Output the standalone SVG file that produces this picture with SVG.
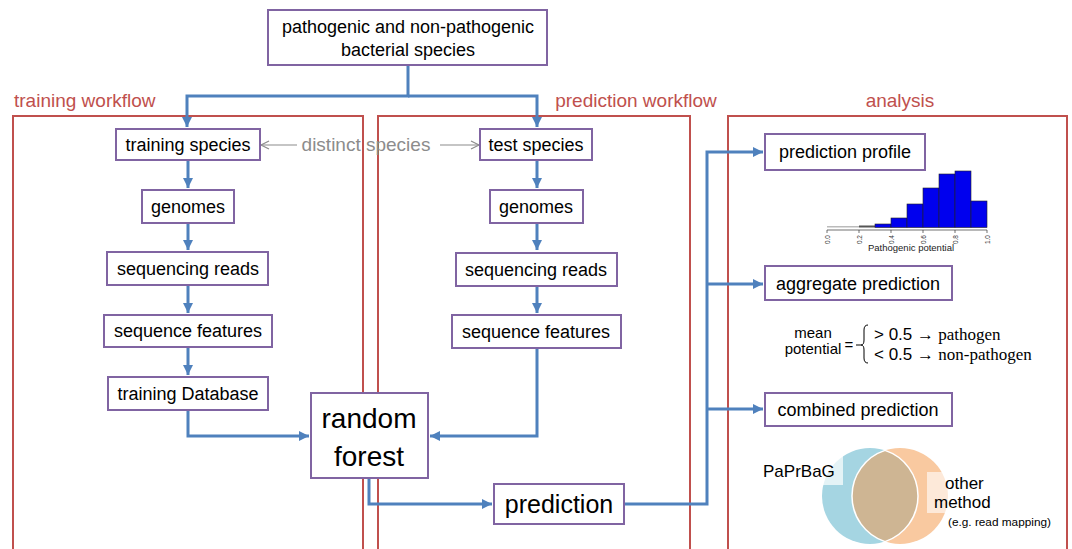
<svg xmlns="http://www.w3.org/2000/svg" width="1072" height="549" viewBox="0 0 1072 549">
<style>
.box{fill:#fff;stroke:#8064a2;stroke-width:2}
.t{font-family:"Liberation Sans",Arial,sans-serif;font-size:18px;fill:#000;text-anchor:middle}
.red{fill:none;stroke:#c0504d;stroke-width:2}
.rl{font-family:"Liberation Sans",Arial,sans-serif;font-size:19px;fill:#c0504d}
.c{fill:none;stroke:#4f81bd;stroke-width:3}
.g{fill:none;stroke:#8c8c8c;stroke-width:1.2}
.s{font-family:"Liberation Sans",Arial,sans-serif}
.serif{font-family:"Liberation Serif","Times New Roman",serif}
</style>
<defs>
<marker id="ah" markerUnits="userSpaceOnUse" markerWidth="12" markerHeight="12" refX="10" refY="5" orient="auto">
<path d="M0,0 L10,5 L0,10 Z" fill="#4f81bd"/>
</marker>
<marker id="ga" markerUnits="userSpaceOnUse" markerWidth="12" markerHeight="12" refX="9" refY="5" orient="auto">
<path d="M1,1 L9,5 L1,9" fill="none" stroke="#8c8c8c" stroke-width="1.2"/>
</marker>
</defs>
<rect width="1072" height="549" fill="#fff"/>

<g id="regions">
<path class="red" d="M13,560 V116 H363 V560"/>
<path class="red" d="M378,560 V116 H690 V560"/>
<path class="red" d="M728,560 V116 H1067 V560"/>
<text class="rl" x="14" y="107">training workflow</text>
<text class="rl" x="636" y="107" text-anchor="middle">prediction workflow</text>
<text class="rl" x="900" y="107" text-anchor="middle">analysis</text>
</g>

<g id="connectors">
<path class="c" d="M408,65 V96 H187 V127" marker-end="url(#ah)"/>
<path class="c" d="M408,96 H537 V127" marker-end="url(#ah)"/>
<path class="c" d="M188,161 V188" marker-end="url(#ah)"/>
<path class="c" d="M188,224 V250" marker-end="url(#ah)"/>
<path class="c" d="M188,286 V313" marker-end="url(#ah)"/>
<path class="c" d="M188,348 V375" marker-end="url(#ah)"/>
<path class="c" d="M188,411 V436 H309" marker-end="url(#ah)"/>
<path class="c" d="M537,161 V188" marker-end="url(#ah)"/>
<path class="c" d="M537,224 V250" marker-end="url(#ah)"/>
<path class="c" d="M537,287 V313" marker-end="url(#ah)"/>
<path class="c" d="M537,349 V436 H430" marker-end="url(#ah)"/>
<path class="c" d="M369,479 V504 H492" marker-end="url(#ah)"/>
<path class="c" d="M625,504 H707 V152 H763" marker-end="url(#ah)"/>
<path class="c" d="M707,284 H763" marker-end="url(#ah)"/>
<path class="c" d="M707,409 H763" marker-end="url(#ah)"/>
<path class="g" d="M297,145 H261" marker-end="url(#ga)"/>
<path class="g" d="M440,145 H479" marker-end="url(#ga)"/>
<text class="s" x="366" y="151" style="font-size:19px" fill="#8c8c8c" text-anchor="middle">distinct species</text>
</g>

<g id="n-source">
<rect class="box" x="268" y="10" width="279" height="55"/>
<text class="t" x="408" y="33">pathogenic and non-pathogenic</text>
<text class="t" x="408" y="56">bacterial species</text>
</g>

<g id="n-train-species"><rect class="box" x="116" y="129" width="144" height="31"/><text class="t" x="188" y="151">training species</text></g>
<g id="n-train-genomes"><rect class="box" x="142" y="190" width="92" height="33"/><text class="t" x="188" y="213">genomes</text></g>
<g id="n-train-reads"><rect class="box" x="107" y="252" width="161" height="33"/><text class="t" x="188" y="275">sequencing reads</text></g>
<g id="n-train-features"><rect class="box" x="104" y="315" width="168" height="32"/><text class="t" x="188" y="337">sequence features</text></g>
<g id="n-train-db"><rect class="box" x="108" y="377" width="160" height="33"/><text class="t" x="188" y="400">training Database</text></g>

<g id="n-test-species"><rect class="box" x="480" y="129" width="112" height="31"/><text class="t" x="536" y="151">test species</text></g>
<g id="n-test-genomes"><rect class="box" x="490" y="190" width="93" height="33"/><text class="t" x="536" y="213">genomes</text></g>
<g id="n-test-reads"><rect class="box" x="456" y="253" width="161" height="33"/><text class="t" x="536" y="276">sequencing reads</text></g>
<g id="n-test-features"><rect class="box" x="452" y="315" width="169" height="33"/><text class="t" x="536" y="338">sequence features</text></g>

<g id="n-rf">
<rect class="box" x="311" y="393" width="117" height="85"/>
<text class="t" x="369" y="428" style="font-size:28px">random</text>
<text class="t" x="369" y="466" style="font-size:28px">forest</text>
</g>
<g id="n-prediction">
<rect class="box" x="494" y="484" width="130" height="40"/>
<text class="t" x="559" y="513" style="font-size:25px">prediction</text>
</g>

<g id="n-profile"><rect class="box" x="765" y="134" width="160" height="36"/><text class="t" x="845" y="158">prediction profile</text></g>
<g id="n-aggregate"><rect class="box" x="765" y="266" width="187" height="34"/><text class="t" x="858" y="290">aggregate prediction</text></g>
<g id="n-combined"><rect class="box" x="765" y="393" width="187" height="33"/><text class="t" x="858" y="416">combined prediction</text></g>

<g id="histogram">
<rect x="827" y="226" width="32" height="1.5" fill="#bbb"/>
<rect x="859" y="225.5" width="16" height="2" fill="#555"/>
<g fill="#0000ee" stroke="#222" stroke-width="0.6">
<rect x="875" y="224" width="16" height="3.5"/>
<rect x="891" y="218" width="16" height="9.5"/>
<rect x="907" y="204" width="16" height="23.5"/>
<rect x="923" y="188" width="16" height="39.5"/>
<rect x="939" y="174" width="16" height="53.5"/>
<rect x="955" y="171" width="16" height="56.5"/>
<rect x="971" y="201" width="16" height="26.5"/>
</g>
<path d="M827,230 H987 M827,230 V233 M859,230 V233 M891,230 V233 M923,230 V233 M955,230 V233 M987,230 V233" stroke="#333" stroke-width="0.7" fill="none"/>
<g class="s" style="font-size:6.5px" fill="#333" text-anchor="end">
<text transform="translate(829.5,235) rotate(-90)">0.0</text>
<text transform="translate(861.5,235) rotate(-90)">0.2</text>
<text transform="translate(893.5,235) rotate(-90)">0.4</text>
<text transform="translate(925.5,235) rotate(-90)">0.6</text>
<text transform="translate(957.5,235) rotate(-90)">0.8</text>
<text transform="translate(989.5,235) rotate(-90)">1.0</text>
</g>
<text class="s" x="911" y="251" style="font-size:9.5px" fill="#222" text-anchor="middle">Pathogenic potential</text>
</g>

<g id="formula">
<text class="t" x="813" y="338" style="font-size:15px">mean</text>
<text class="t" x="813" y="354" style="font-size:15px">potential</text>
<text class="t" x="849" y="350" style="font-size:15px">=</text>
<path d="M856,345 H861 M868,325 Q864,325 864,330 V340 Q864,345 861,345 Q864,345 864,350 V358 Q864,363 868,363" fill="none" stroke="#000" stroke-width="1"/>
<text x="874" y="340" style="font-size:17px"><tspan class="s">&gt; 0.5 </tspan><tspan class="serif">→ pathogen</tspan></text>
<text x="874" y="360" style="font-size:17px"><tspan class="s">&lt; 0.5 </tspan><tspan class="serif">→ non-pathogen</tspan></text>
</g>

<g id="venn">
<circle cx="870" cy="496" r="48" fill="#a5d5e2"/>
<circle cx="900" cy="496" r="48" fill="#f9c9a0"/>
<path d="M885,450.4 A48,48 0 0,1 885,541.6 A48,48 0 0,1 885,450.4 Z" fill="#ceb593" stroke="#fff" stroke-width="1.5"/>
<rect x="760" y="455" width="83" height="30" fill="#fff" fill-opacity="0.7"/>
<rect x="927" y="472" width="22" height="41" fill="#fff" fill-opacity="0.6"/>
<text class="s" x="763" y="477" style="font-size:17px">PaPrBaG</text>
<text class="s" x="945" y="489" style="font-size:17px">other</text>
<text class="s" x="934" y="508" style="font-size:17px">method</text>
<text class="s" x="948" y="526" style="font-size:11.8px">(e.g. read mapping)</text>
</g>
</svg>
